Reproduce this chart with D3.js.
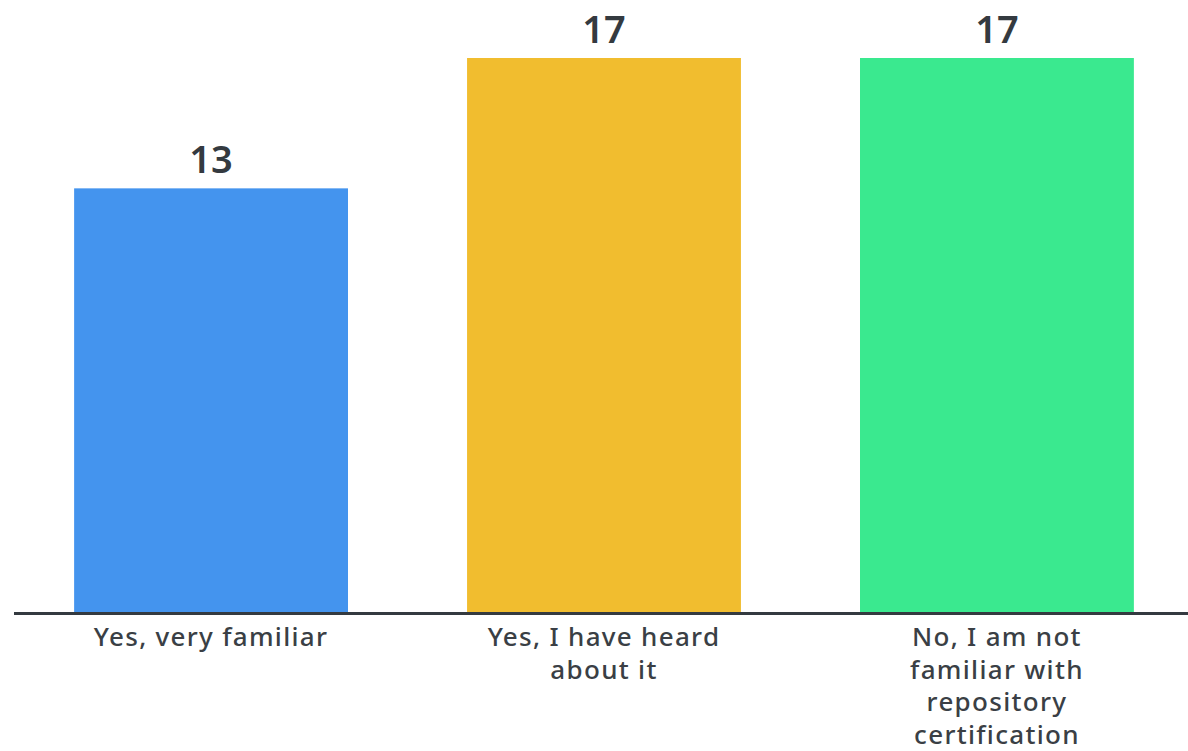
<!DOCTYPE html>
<html>
<head>
<meta charset="utf-8">
<script src="https://cdn.jsdelivr.net/npm/d3@7"></script>
<style>
  body { margin: 0; background: #fff; }
  text { font-family: "Noto Sans", sans-serif; }
</style>
</head>
<body>
<div id="bar-chart"></div>
<script>
const categories = ["familiar", "heard", "notFamiliar"];
const labelLines = [
    ["Yes, very familiar"],
    ["Yes, I have heard", "about it"],
    ["No, I am not", "familiar with", "repository", "certification"]
];
const counts = [13, 17, 17];
const colors = ["#4494ee", "#f1bd2f", "#3ae98f"];

const drawBarChart = () => {
    const width = 1188;
    const height = 751;
    const baseline = 612;
    const top = 58;
    const ink = "#343a40";

    const svg = d3.select("#bar-chart")
        .append("svg")
        .attr("width", width)
        .attr("height", height)
        .attr("viewBox", `0, 0, ${width}, ${height}`);

    const xScale = d3.scaleBand()
        .domain(categories)
        .range([14, 1194])
        .paddingInner(0.303)
        .paddingOuter(0.153);

    const yScale = d3.scaleLinear()
        .domain([0, d3.max(counts)])
        .range([baseline, top]);

    const data = categories.map((c, i) => ({
        key: c, value: counts[i], color: colors[i], lines: labelLines[i]
    }));

    // bars
    svg.selectAll("rect.bar")
        .data(data)
        .join("rect")
        .attr("class", "bar")
        .attr("x", d => xScale(d.key))
        .attr("y", d => yScale(d.value))
        .attr("width", xScale.bandwidth())
        .attr("height", d => baseline - yScale(d.value))
        .attr("fill", d => d.color);

    // value labels
    svg.selectAll("text.value")
        .data(data)
        .join("text")
        .attr("class", "value")
        .attr("x", d => xScale(d.key) + xScale.bandwidth() / 2)
        .attr("y", d => yScale(d.value) - 15)
        .attr("text-anchor", "middle")
        .attr("font-size", "38px")
        .attr("font-weight", 600)
        .attr("fill", ink)
        .text(d => d.value);

    // axis line
    svg.append("line")
        .attr("x1", 14)
        .attr("x2", width)
        .attr("y1", baseline + 1.5)
        .attr("y2", baseline + 1.5)
        .attr("stroke", ink)
        .attr("stroke-width", 3);

    // category labels
    const labels = svg.selectAll("text.cat")
        .data(data)
        .join("text")
        .attr("class", "cat")
        .attr("text-anchor", "middle")
        .attr("font-size", "26px")
        .attr("font-weight", 500)
        .attr("letter-spacing", "1.3px")
        .attr("fill", "#3a3f45");

    labels.selectAll("tspan")
        .data(d => d.lines.map(l => ({ line: l, x: xScale(d.key) + xScale.bandwidth() / 2 })))
        .join("tspan")
        .attr("x", d => d.x)
        .attr("y", (d, i) => 646 + i * 32.5)
        .text(d => d.line);
};

drawBarChart();
</script>
</body>
</html>
